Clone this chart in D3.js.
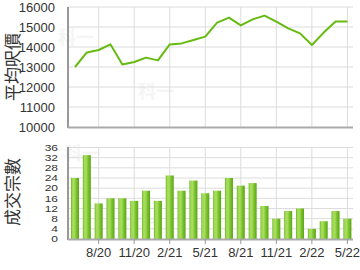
<!DOCTYPE html>
<html><head><meta charset="utf-8">
<script src="https://cdn.jsdelivr.net/npm/d3@7"></script>
<style>body{margin:0;background:#fff;} svg{display:block;}</style>
</head><body><svg id="c" width="360" height="270"></svg>
<script>
const months = ["6/20","7/20","8/20","9/20","10/20","11/20","12/20","1/21","2/21","3/21","4/21","5/21","6/21","7/21","8/21","9/21","10/21","11/21","12/21","1/22","2/22","3/22","4/22","5/22"];
const avgPrice = [13000,13730,13850,14130,13130,13250,13470,13330,14130,14180,14350,14520,15220,15470,15080,15380,15570,15270,14930,14680,14100,14720,15280,15280];
const volume = [24,33,14,16,16,15,19,15,25,19,23,18,19,24,21,22,13,8,11,12,4,7,11,8];
const xTickLabels = ["8/20","11/20","2/21","5/21","8/21","11/21","2/22","5/22"];
const priceTicks = [10000,11000,12000,13000,14000,15000,16000];
const volTicks = [0,4,8,12,16,20,24,28,32,36];

const svg = d3.select("#c");
const font = "'Liberation Sans', Arial, sans-serif";
const left = 68, right = 353;
const x = d3.scalePoint().domain(months).range([75, 347.4]);
const yP = d3.scaleLinear().domain([10000,16000]).range([127,7]);
const yV = d3.scaleLinear().domain([0,36]).range([239,147.5]);

const defs = svg.append("defs");
const g = defs.append("linearGradient").attr("id","bg").attr("x1","0").attr("x2","1").attr("y1","0").attr("y2","0");
[[0,"#62b11c"],[0.15,"#9fd853"],[0.4,"#a9dd5f"],[0.65,"#7cc530"],[1,"#5aa515"]].forEach(s=>g.append("stop").attr("offset",s[0]).attr("stop-color",s[1]));

// watermarks
function wm(xp,yp){svg.append("text").attr("x",xp).attr("y",yp).attr("font-family","'Noto Sans CJK SC',sans-serif").attr("font-weight","bold").attr("font-size",18).attr("fill","#f5f5f5").text("科一");}
wm(58,44); wm(138,98); wm(64,160); wm(126,230);

// top grid
const gt = svg.append("g");
gt.selectAll("line.h").data(priceTicks.slice(1)).join("line")
  .attr("x1",left).attr("x2",right).attr("y1",d=>yP(d)).attr("y2",d=>yP(d))
  .attr("stroke","#dcdcdc").attr("stroke-width",1);
gt.selectAll("line.v").data(xTickLabels).join("line")
  .attr("x1",d=>x(d)).attr("x2",d=>x(d)).attr("y1",7).attr("y2",127)
  .attr("stroke","#dcdcdc").attr("stroke-width",1);
// bottom grid
const gb = svg.append("g");
gb.selectAll("line.h").data(volTicks.slice(1)).join("line")
  .attr("x1",left).attr("x2",right).attr("y1",d=>yV(d)).attr("y2",d=>yV(d))
  .attr("stroke","#dcdcdc").attr("stroke-width",1);
gb.selectAll("line.v").data(xTickLabels).join("line")
  .attr("x1",d=>x(d)).attr("x2",d=>x(d)).attr("y1",147.5).attr("y2",239)
  .attr("stroke","#dcdcdc").attr("stroke-width",1);

// line
svg.append("path").datum(avgPrice)
  .attr("d", d3.line().x((d,i)=>x(months[i])).y(d=>yP(d)))
  .attr("fill","none").attr("stroke","#66bb11").attr("stroke-width",2).attr("stroke-linejoin","round");

// bars
const bw = 8;
svg.selectAll("rect.bar").data(volume).join("rect")
  .attr("x",(d,i)=>x(months[i])-bw/2).attr("width",bw)
  .attr("y",d=>yV(d)).attr("height",d=>yV(0)-yV(d))
  .attr("fill","url(#bg)");

// axes lines
svg.append("line").attr("x1",left).attr("x2",left).attr("y1",7).attr("y2",128).attr("stroke","#777").attr("stroke-width",1.5);
svg.append("line").attr("x1",left).attr("x2",right).attr("y1",127.5).attr("y2",127.5).attr("stroke","#aaa").attr("stroke-width",2);
svg.append("line").attr("x1",left).attr("x2",left).attr("y1",147).attr("y2",240).attr("stroke","#777").attr("stroke-width",1.5);
svg.append("line").attr("x1",left).attr("x2",right).attr("y1",239.5).attr("y2",239.5).attr("stroke","#aaa").attr("stroke-width",2);
svg.selectAll("line.xt").data(xTickLabels).join("line")
  .attr("x1",d=>x(d)).attr("x2",d=>x(d)).attr("y1",239).attr("y2",244).attr("stroke","#999");

// y labels
svg.selectAll("text.yp").data(priceTicks).join("text")
  .attr("x",55).attr("y",d=>yP(d)).attr("dy","0.36em").attr("text-anchor","end")
  .attr("font-family",font).attr("font-size",13).attr("fill","#333").text(d=>d);
svg.selectAll("text.yv").data(volTicks).join("text")
  .attr("transform",d=>`translate(58,${yV(d)}) scale(1,0.75)`).attr("dy","0.36em").attr("text-anchor","end")
  .attr("font-family",font).attr("font-size",12).attr("fill","#333").text(d=>d);
svg.selectAll("text.xl").data(xTickLabels).join("text")
  .attr("x",d=>x(d)).attr("y",257).attr("text-anchor","middle")
  .attr("font-family",font).attr("font-size",13).attr("fill","#333").text(d=>d);

// titles
svg.append("text").attr("transform","translate(19,67) rotate(-90)").attr("text-anchor","middle")
  .attr("font-family","'Noto Sans CJK TC',sans-serif").attr("font-size",17).attr("fill","#333").text("平均呎價");
svg.append("text").attr("transform","translate(19,192) rotate(-90)").attr("text-anchor","middle")
  .attr("font-family","'Noto Sans CJK TC',sans-serif").attr("font-size",17).attr("fill","#333").text("成交宗數");
</script></body></html>
